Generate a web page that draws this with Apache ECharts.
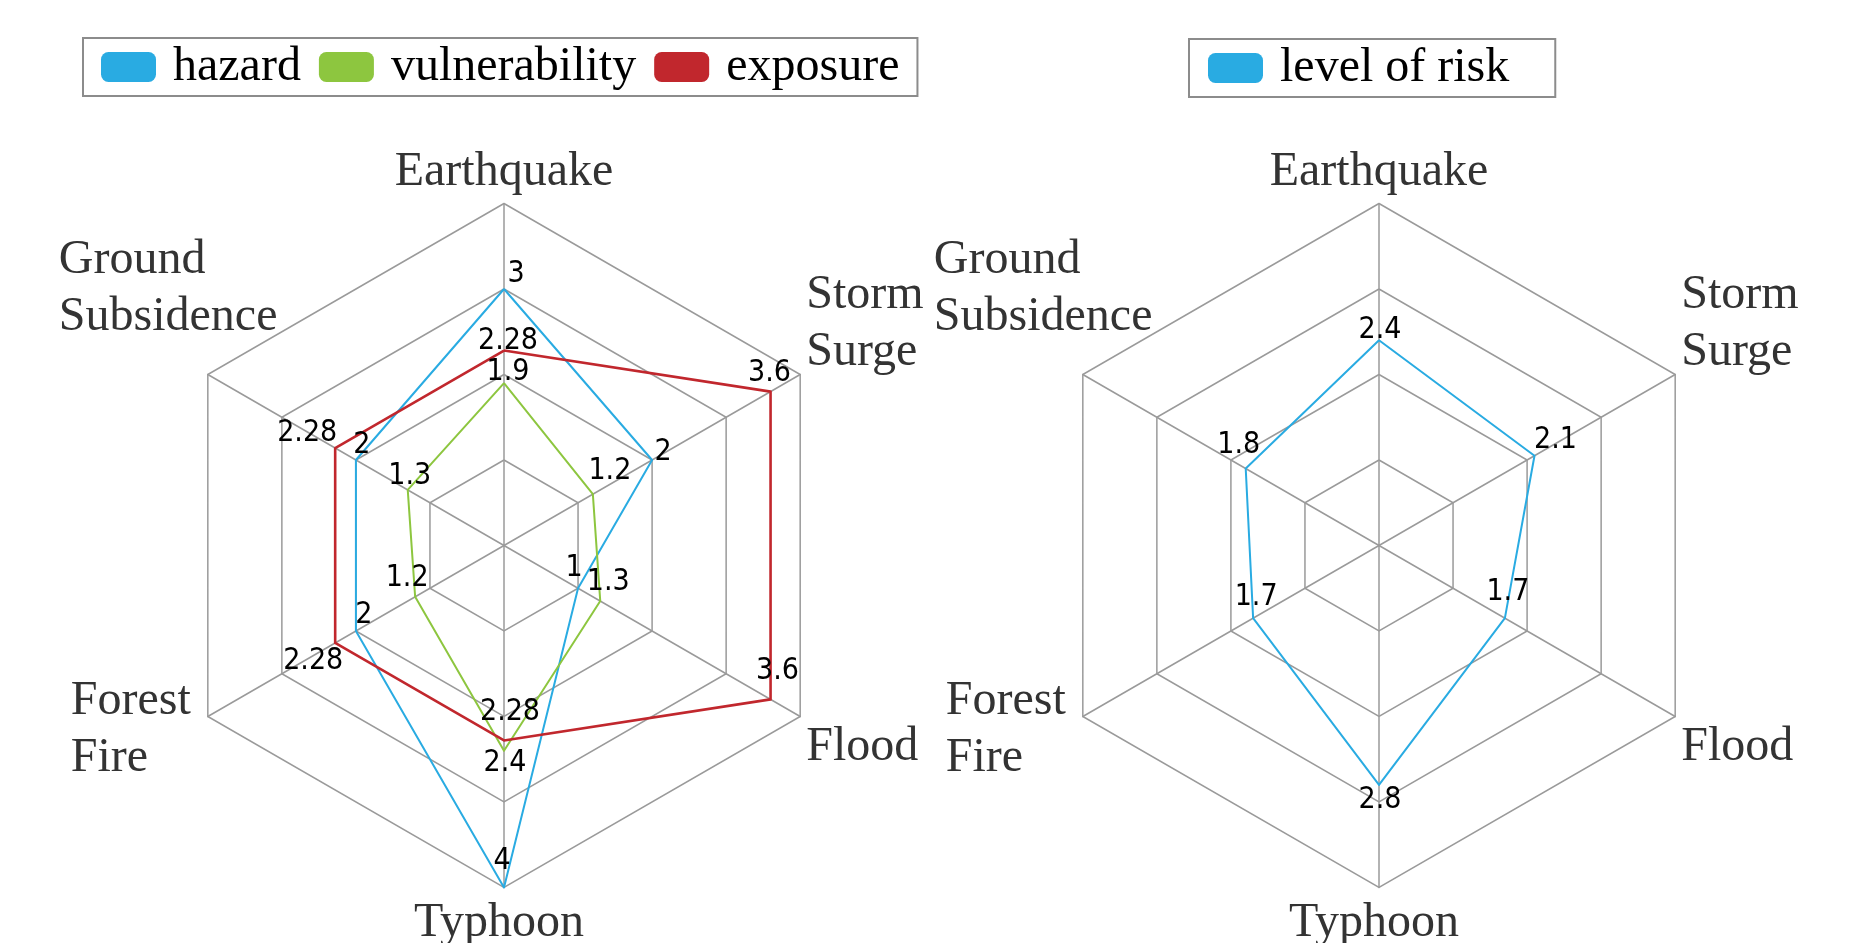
<!DOCTYPE html>
<html>
<head>
<meta charset="utf-8">
<script src="https://cdn.jsdelivr.net/npm/echarts@6/dist/echarts.min.js"></script>
<style>
html,body{margin:0;padding:0;background:#ffffff;}
#chart{width:1851px;height:943px;}
</style>
</head>
<body>
<div id="chart"></div>
<script>
// ---------------- data ----------------
// indicators listed counter-clockwise starting at the top (ECharts radar order)
const indicators = ['Earthquake', 'Ground\nSubsidence', 'Forest\nFire', 'Typhoon', 'Flood', 'Storm\nSurge'];
const axisMax = 4;
const axisSplits = 4;
const hazard        = [3,    2,    2,    4,    1,   2];
const vulnerability = [1.9,  1.3,  1.2,  2.4,  1.3, 1.2];
const exposure      = [2.28, 2.28, 2.28, 2.28, 3.6, 3.6];
const levelOfRisk   = [2.4,  1.8,  1.7,  2.8,  1.7, 2.1];
const leftLegend  = ['hazard', 'vulnerability', 'exposure'];
const rightLegend = ['level of risk'];

// ---------------- styles ----------------
const SERIF = "'Liberation Serif', 'Times New Roman', serif";
const LABEL_FONT = "'DejaVu Sans Condensed', 'Liberation Sans Narrow', 'Liberation Sans', sans-serif";
const GRID = '#9a9a9a';
const COLORS = {
  'hazard': '#29ABE2',
  'vulnerability': '#8DC63F',
  'exposure': '#C1272D',
  'level of risk': '#29ABE2'
};
const LINE_W = {'hazard': 2, 'vulnerability': 2, 'exposure': 2.6, 'level of risk': 2};
// label offsets (dx, dy) from the vertex, same order as indicators
const LABEL_OFFSETS = {
  'hazard':        [[12,-15],[6,-15],[8,-16],[-2,-26],[-4,-20],[11,-8]],
  'vulnerability': [[4,-11],[2,-14],[-8,-19],[1,13],[8,-19],[17,-23]],
  'exposure':      [[4,-9],[-28,-15],[-22,18],[6,-28],[7,-28],[-1,-18]],
  'level of risk': [[1,-10],[-7,-23],[3,-21],[1,15],[3,-26],[21,-16]]
};
// indicator name placement tweaks (padding [t,r,b,l], width, align)
const NAME_LAYOUT = [
  {pad: [0, 0, 6, 0]},
  {pad: [0, 0, 172, 0], width: 149, align: 'left'},
  {pad: [27, 0, 0, 0], width: 137, align: 'left'},
  {pad: [15, 10, 0, 0]},
  {pad: [62, 0, 0, 6]},
  {pad: [0, 0, 102, 6]}
];

function labelFor(key) {
  const rich = {};
  LABEL_OFFSETS[key].forEach(function (o, i) {
    const dx = o[0], dy = o[1];
    rich['d' + i] = {
      fontFamily: LABEL_FONT, fontSize: 30, color: '#000',
      padding: [Math.max(0, 2 * dy), Math.max(0, -2 * dx), Math.max(0, -2 * dy), Math.max(0, 2 * dx)]
    };
  });
  return {
    show: true,
    position: 'inside',
    fontFamily: LABEL_FONT, fontSize: 30, color: '#000',
    formatter: function (p) {
      const d = p.dimensionIndex == null ? 0 : p.dimensionIndex;
      return '{d' + d + '|' + p.value + '}';
    },
    rich: rich
  };
}

const nameRich = {};
NAME_LAYOUT.forEach(function (l, i) {
  const s = {fontFamily: SERIF, fontSize: 48, lineHeight: 57, color: '#333', padding: l.pad};
  if (l.width) s.width = l.width;
  if (l.align) s.align = l.align;
  nameRich['n' + i] = s;
});

function radarCfg(cx) {
  return {
    center: [cx, 545.5],
    radius: 342,
    startAngle: 90,
    splitNumber: axisSplits,
    shape: 'polygon',
    axisNameGap: 0,
    indicator: indicators.map(function (n) { return {name: n, min: 0, max: axisMax}; }),
    axisName: {
      color: '#333', fontFamily: SERIF, fontSize: 48, lineHeight: 57,
      formatter: function (value, ind) {
        const i = indicators.indexOf(ind && ind.name != null ? ind.name : value);
        return value.split('\n').map(function (s) { return '{n' + i + '|' + s + '}'; }).join('\n');
      },
      rich: nameRich
    },
    splitLine: {lineStyle: {color: GRID, width: 1.5}},
    splitArea: {show: false},
    axisLine: {lineStyle: {color: GRID, width: 1.5}},
    axisTick: {show: false},
    axisLabel: {show: false}
  };
}

function item(name, values) {
  return {
    name: name,
    value: values,
    symbol: 'circle',
    symbolSize: 1,
    itemStyle: {color: COLORS[name]},
    lineStyle: {color: COLORS[name], width: LINE_W[name]},
    label: labelFor(name)
  };
}

function legendCfg(names, left, top, pad) {
  return {
    data: names,
    left: left, top: top,
    orient: 'horizontal',
    icon: 'roundRect',
    itemWidth: 55, itemHeight: 30, itemGap: 18,
    borderColor: '#8c8c8c', borderWidth: 2, borderRadius: 0,
    padding: pad,
    selectedMode: false,
    textStyle: {fontFamily: SERIF, fontSize: 48, lineHeight: 48, color: '#000', padding: [0, 0, 0, 12]}
  };
}

const chart = echarts.init(document.getElementById('chart'), null, {renderer: 'canvas'});
chart.setOption({
  animation: false,
  backgroundColor: '#ffffff',
  legend: [
    legendCfg(leftLegend, 83, 38, [5, 18, 5, 18]),
    legendCfg(rightLegend, 1189, 39, [5, 46, 5, 19])
  ],
  radar: [radarCfg(504), radarCfg(1379)],
  series: [
    {
      type: 'radar', radarIndex: 0, emphasis: {disabled: true},
      data: [item('hazard', hazard), item('vulnerability', vulnerability), item('exposure', exposure)]
    },
    {
      type: 'radar', radarIndex: 1, emphasis: {disabled: true},
      data: [item('level of risk', levelOfRisk)]
    }
  ]
});
</script>
</body>
</html>
